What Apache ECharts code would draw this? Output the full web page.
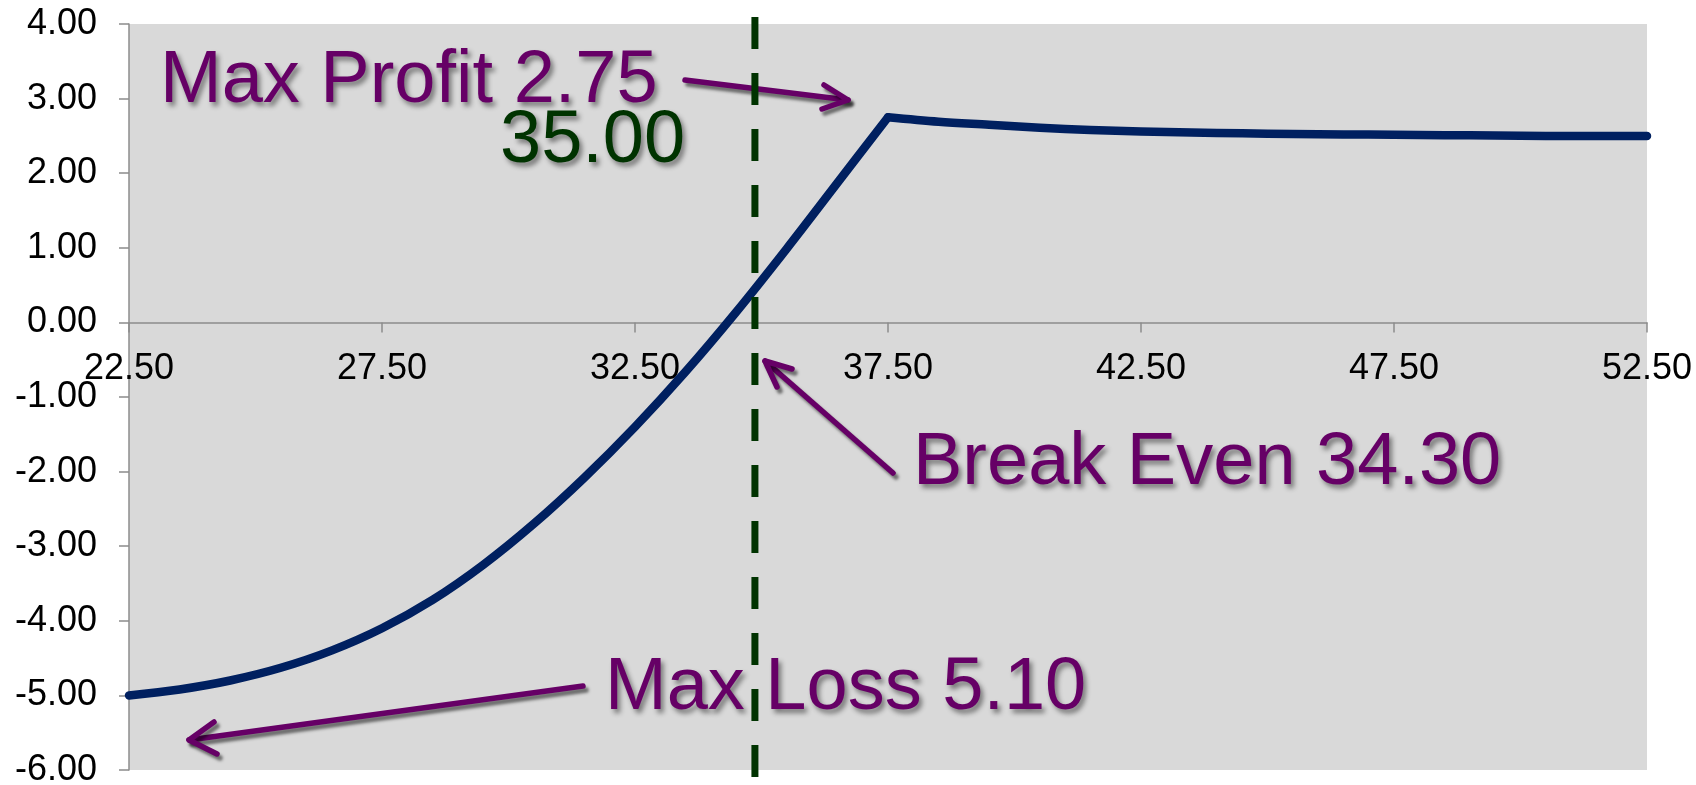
<!DOCTYPE html>
<html>
<head>
<meta charset="utf-8">
<script src="https://cdn.jsdelivr.net/npm/echarts@6/dist/echarts.min.js"></script>
<style>
  html, body { margin: 0; padding: 0; background: #fff; }
  #chart { width: 1696px; height: 785px; }
</style>
</head>
<body>
<div id="chart"></div>
<script>
// stock price at expiration
const stockPrices = [
  22.5, 23.5, 24.5, 25.5, 26.5, 27.5, 28.5, 29.5, 30.5, 31.5, 32.5,
  33.5, 34.5, 35.5, 36.5, 37.5, 38.5, 39.5, 40.5, 41.5, 42.5,
  43.5, 44.5, 45.5, 46.5, 47.5, 48.5, 49.5, 50.5, 51.5, 52.5,
];

// position profit / loss
const profitLoss = [
  -5.00, -4.92, -4.80, -4.63, -4.40, -4.10, -3.72, -3.25, -2.70, -2.08, -1.40,
  -0.66, 0.14, 0.99, 1.87, 2.75, 2.69, 2.65, 2.61, 2.58, 2.56,
  2.545, 2.535, 2.525, 2.52, 2.515, 2.51, 2.505, 2.50, 2.50, 2.50,
];

// price where the curve peaks (short strike)
const peakPrice = 37.5;

// where the dashed current-price marker sits on the x axis
const currentPrice = 34.87;

const annotationLabels = ['Max Profit 2.75', '35.00', 'Break Even 34.30', 'Max Loss 5.10'];

const FONT = '"Liberation Sans", Arial, sans-serif';
const PURPLE = '#660066';
const GREEN = '#003300';
const NAVY = '#002060';
const AXIS_GREY = '#8c8c8c';

const points = stockPrices.map((x, i) => [x, profitLoss[i]]);
const peakIndex = stockPrices.indexOf(peakPrice);

const curveStyle = { color: NAVY, width: 8.5, cap: 'round', join: 'round' };

const chart = echarts.init(document.getElementById('chart'));

function axisLabelStyle() {
  return {
    show: true,
    color: '#000',
    fontSize: 36,
    fontFamily: FONT,
    formatter: (v) => v.toFixed(2),
  };
}

chart.setOption({
  animation: false,
  backgroundColor: '#ffffff',
  grid: {
    left: 129,
    right: 49,
    top: 24,
    bottom: 15,
    show: true,
    backgroundColor: '#d9d9d9',
    borderWidth: 0,
    containLabel: false,
    outerBoundsMode: 'none',
  },
  xAxis: {
    type: 'value',
    min: 22.5,
    max: 52.5,
    interval: 5,
    position: 'bottom',
    offset: 0,
    axisLine: { show: true, onZero: false, lineStyle: { color: AXIS_GREY, width: 1.5 } },
    axisTick: { show: true, length: 10, lineStyle: { color: AXIS_GREY, width: 1.5 } },
    axisLabel: Object.assign(axisLabelStyle(), { margin: 29, hideOverlap: false }),
    splitLine: { show: false },
  },
  yAxis: {
    type: 'value',
    min: -6,
    max: 4,
    interval: 1,
    axisLine: { show: true, onZero: false, lineStyle: { color: AXIS_GREY, width: 1.5 } },
    axisTick: { show: true, length: 10, lineStyle: { color: AXIS_GREY, width: 1.5 } },
    axisLabel: Object.assign(axisLabelStyle(), { margin: 32 }),
    splitLine: { show: false },
  },
  series: [
    {
      type: 'line',
      data: points.slice(0, peakIndex + 1),
      showSymbol: false,
      symbol: 'none',
      smooth: 0.35,
      lineStyle: curveStyle,
      z: 3,
    },
    {
      type: 'line',
      data: points.slice(peakIndex),
      showSymbol: false,
      symbol: 'none',
      smooth: 0.35,
      lineStyle: curveStyle,
      z: 3,
    },
  ],
});

// move the x axis up to the zero line
const zeroY = chart.convertToPixel({ yAxisIndex: 0 }, 0);
const bottomY = chart.convertToPixel({ yAxisIndex: 0 }, -6);
const markerX = chart.convertToPixel({ xAxisIndex: 0 }, currentPrice);

const textShadow = {
  textShadowColor: 'rgba(0, 0, 0, 0.45)',
  textShadowBlur: 5,
  textShadowOffsetX: 3,
  textShadowOffsetY: 4,
};

const arrowStyle = {
  stroke: PURPLE,
  lineWidth: 5.5,
  lineCap: 'round',
  lineJoin: 'round',
  fill: null,
  shadowColor: 'rgba(0, 0, 0, 0.5)',
  shadowBlur: 3,
  shadowOffsetX: 3,
  shadowOffsetY: 4,
};

function label(text, x, y, color) {
  return {
    type: 'text',
    z: 20,
    style: Object.assign({
      text,
      x,
      y,
      fill: color,
      font: '74px ' + FONT,
      verticalAlign: 'middle',
      align: 'left',
    }, textShadow),
  };
}

function arrow(pts) {
  return { type: 'polyline', z: 15, shape: { points: pts }, style: arrowStyle };
}

chart.setOption({
  xAxis: { offset: zeroY - bottomY },
  graphic: [
    // max profit arrow
    arrow([[685, 80], [848, 100]]),
    arrow([[824, 85], [848, 100], [822, 109]]),
    // break even arrow
    arrow([[893, 473], [765, 361]]),
    arrow([[792, 369], [765, 361], [777, 387]]),
    // max loss arrow
    arrow([[583, 686], [189, 740]]),
    arrow([[214, 722], [189, 740], [217, 754]]),
    label(annotationLabels[0], 160, 82, PURPLE),
    label(annotationLabels[1], 500, 142, GREEN),
    label(annotationLabels[2], 913, 464, PURPLE),
    label(annotationLabels[3], 605, 689, PURPLE),
    {
      type: 'line',
      z: 30,
      shape: { x1: markerX, y1: 17, x2: markerX, y2: 785 },
      style: { stroke: GREEN, lineWidth: 7, lineDash: [32, 24] },
    },
  ],
});
</script>
</body>
</html>
